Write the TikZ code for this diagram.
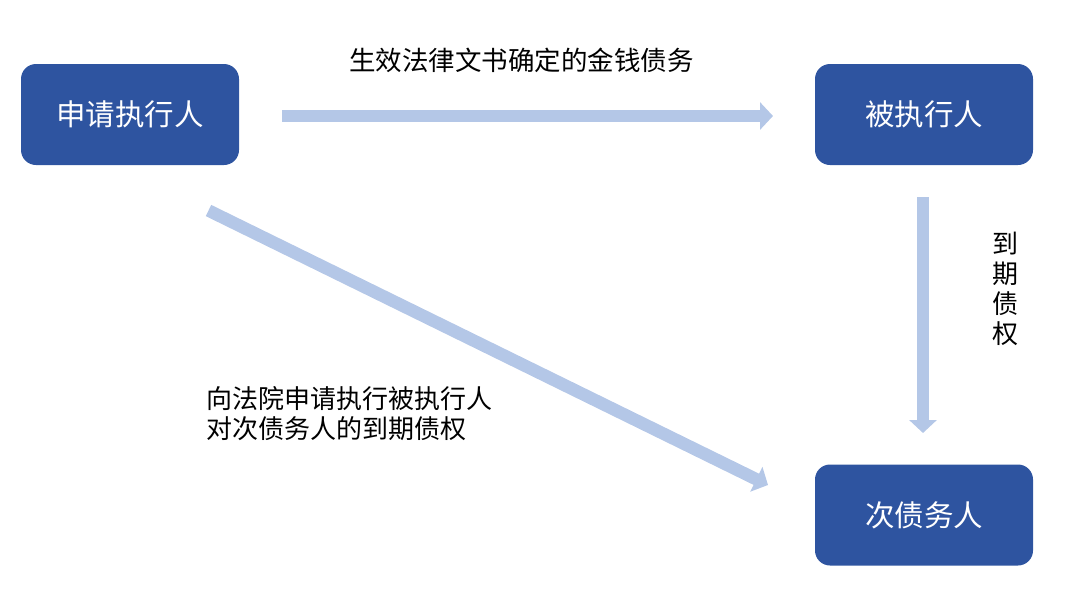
\documentclass[tikz,border=0pt]{standalone}
\usepackage{fontspec}
\setmainfont{Noto Sans CJK SC}
\usetikzlibrary{arrows.meta}
\definecolor{boxblue}{HTML}{2E54A0}
\definecolor{arrowblue}{HTML}{B4C7E7}
\tikzset{
  party/.style={draw=none, fill=boxblue, rounded corners=15pt, minimum width=218pt, minimum height=101pt, text=white, font=\fontsize{29.5}{34}\selectfont, inner sep=0pt},
  bigarrow/.style={draw=arrowblue, line width=12.5pt, -{Triangle[width=27pt,length=13pt]}},
  lbl/.style={text=black, font=\fontsize{26}{30}\selectfont, inner sep=0pt}
}
\begin{document}
\begin{tikzpicture}[x=1pt,y=-1pt]
\useasboundingbox (0,0) rectangle (1066,592);
\node[party] (a) at (130,114.5) {申请执行人};
\node[party] (b) at (924,114.5) {被执行人};
\node[party] (c) at (924,515) {次债务人};
\coordinate (h1) at (282,116);
\coordinate (h2) at (773,116);
\coordinate (v1) at (923,197);
\coordinate (v2) at (923,433);
\coordinate (d1) at (208.5,210.5);
\coordinate (d2) at (768,485);
\draw[bigarrow] (h1) -- (h2);
\draw[bigarrow] (v1) -- (v2);
\draw[bigarrow] (d1) -- (d2);
\node[lbl, font=\fontsize{26.5}{30}\selectfont] (t1) at (521.5,60) {生效法律文书确定的金钱债务};
\node[lbl, align=center] (t2) at (1005,289) {到\\期\\债\\权};
\node[lbl, align=left, anchor=west] (t3) at (206,414) {向法院申请执行被执行人\\对次债务人的到期债权};
\end{tikzpicture}
\end{document}
